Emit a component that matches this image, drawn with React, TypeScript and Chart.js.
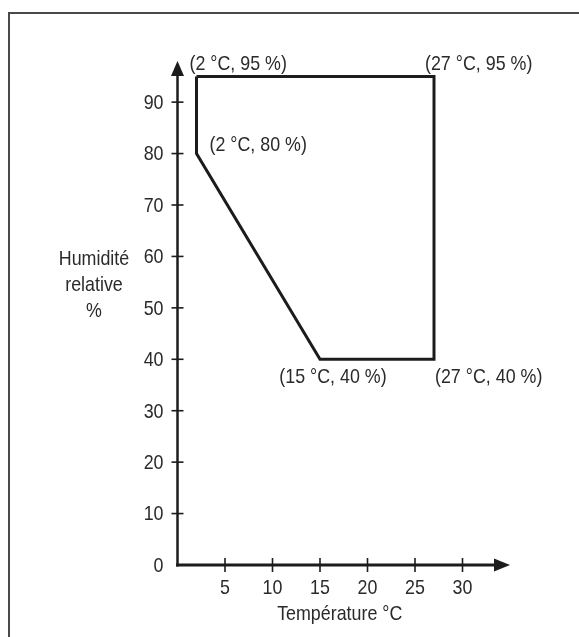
import React, { useEffect, useRef } from "react";
import { Chart, registerables } from "chart.js";

Chart.register(...registerables);

// ---- data ----
const polyTemps = [2, 27, 27, 15, 2, 2];
const polyHumid = [95, 95, 40, 40, 80, 95];

const vertexLabels = ["(2 °C, 95 %)", "(27 °C, 95 %)", "(27 °C, 40 %)", "(15 °C, 40 %)", "(2 °C, 80 %)"];
const labelTemps = [2, 27, 27, 15, 2];
const labelHumid = [95, 95, 40, 40, 80];

const xTickValues = [5, 10, 15, 20, 25, 30];
const yTickValues = [0, 10, 20, 30, 40, 50, 60, 70, 80, 90];

const xTitle = "Température °C";
const yTitleLines = ["Humidité", "relative", "%"];

const FONT_FAMILY = '"Liberation Sans", Arial, sans-serif';
const FONT_SIZE = 21;
const H_SCALE = 0.85; // horizontally condensed text
const TEXT_COLOR = "#2a2a2a";
const LINE_COLOR = "#1c1c1c";

// label placement relative to vertex pixel (style only)
const labelPlacement: { align: CanvasTextAlign; dx: number; dy: number }[] = [
  { align: "left", dx: -7, dy: -12 },
  { align: "left", dx: -9, dy: -12 },
  { align: "left", dx: 1, dy: 18 },
  { align: "center", dx: 13, dy: 18 },
  { align: "left", dx: 13, dy: -8 },
];

function drawText(ctx: CanvasRenderingContext2D, text: string, x: number, y: number, align: CanvasTextAlign) {
  ctx.save();
  ctx.translate(x, y);
  ctx.scale(H_SCALE, 1);
  ctx.textAlign = align;
  ctx.textBaseline = "middle";
  ctx.fillText(text, 0, 0);
  ctx.restore();
}

const decorPlugin = {
  id: "decor",
  afterDraw(chart: any) {
    const ctx: CanvasRenderingContext2D = chart.ctx;
    const xs = chart.scales.x;
    const ys = chart.scales.y;
    const area = chart.chartArea;
    const x0 = xs.getPixelForValue(0);
    const y0 = ys.getPixelForValue(0);
    ctx.save();

    // outer frame
    ctx.strokeStyle = "#4a4a4a";
    ctx.lineWidth = 2;
    ctx.strokeRect(9, 13, 700, 700);

    // axes
    ctx.strokeStyle = LINE_COLOR;
    ctx.fillStyle = LINE_COLOR;
    ctx.lineWidth = 3;
    ctx.lineCap = "butt";
    ctx.beginPath();
    ctx.moveTo(x0 - 1.5, y0);
    ctx.lineTo(area.right - 12, y0);
    ctx.stroke();
    ctx.lineWidth = 2.5;
    ctx.beginPath();
    ctx.moveTo(x0, y0 + 1.5);
    ctx.lineTo(x0, area.top + 12);
    ctx.stroke();

    // arrow heads
    ctx.beginPath();
    ctx.moveTo(area.right, y0);
    ctx.lineTo(area.right - 16, y0 - 6.5);
    ctx.lineTo(area.right - 16, y0 + 6.5);
    ctx.closePath();
    ctx.fill();
    ctx.beginPath();
    ctx.moveTo(x0, area.top);
    ctx.lineTo(x0 - 6.5, area.top + 15);
    ctx.lineTo(x0 + 6.5, area.top + 15);
    ctx.closePath();
    ctx.fill();

    // tick marks
    ctx.lineWidth = 1.6;
    xTickValues.forEach((v) => {
      const px = xs.getPixelForValue(v);
      ctx.beginPath();
      ctx.moveTo(px, y0 - 7);
      ctx.lineTo(px, y0 + 7);
      ctx.stroke();
    });
    yTickValues.forEach((v) => {
      if (v === 0) return;
      const py = ys.getPixelForValue(v);
      ctx.beginPath();
      ctx.moveTo(x0 - 6, py);
      ctx.lineTo(x0 + 6, py);
      ctx.stroke();
    });

    ctx.fillStyle = TEXT_COLOR;
    ctx.font = `${FONT_SIZE}px ${FONT_FAMILY}`;

    // tick labels (from the scales' ticks)
    xs.ticks.forEach((t: any) => {
      drawText(ctx, String(t.value), xs.getPixelForValue(t.value), y0 + 23, "center");
    });
    ys.ticks.forEach((t: any) => {
      drawText(ctx, String(t.value), x0 - 14, ys.getPixelForValue(t.value) + 1, "right");
    });

    // vertex labels
    vertexLabels.forEach((t, i) => {
      const p = labelPlacement[i];
      const px = xs.getPixelForValue(labelTemps[i]) + p.dx;
      const py = ys.getPixelForValue(labelHumid[i]) + p.dy;
      drawText(ctx, t, px, py, p.align);
    });

    // y title (horizontal, 3 lines)
    yTitleLines.forEach((t, i) => {
      drawText(ctx, t, 94, 259 + i * 26, "center");
    });

    // x title
    drawText(ctx, xTitle, (area.left + area.right) / 2 - 4, 614, "center");

    ctx.restore();
  },
};

export default function App() {
  const ref = useRef<HTMLCanvasElement | null>(null);
  useEffect(() => {
    if (!ref.current) return;
    const chart = new Chart(ref.current, {
      type: "scatter",
      data: {
        datasets: [
          {
            data: polyTemps.map((t, i) => ({ x: t, y: polyHumid[i] })),
            showLine: true,
            borderColor: LINE_COLOR,
            borderWidth: 3,
            borderJoinStyle: "miter",
            pointRadius: 0,
            tension: 0,
            fill: false,
          } as any,
        ],
      },
      options: {
        animation: false,
        responsive: false,
        devicePixelRatio: 1,
        layout: { padding: { top: 61, right: 69, bottom: 0, left: 0 } },
        plugins: { legend: { display: false }, tooltip: { enabled: false }, title: { display: false } },
        scales: {
          x: {
            type: "linear",
            min: 0,
            max: 35,
            grid: { display: false, drawTicks: false },
            border: { display: false },
            afterBuildTicks: (s: any) => {
              s.ticks = xTickValues.map((v) => ({ value: v }));
            },
            afterFit: (s: any) => {
              s.height = 72;
            },
            ticks: { display: false },
          },
          y: {
            type: "linear",
            min: 0,
            max: 98,
            grid: { display: false, drawTicks: false },
            border: { display: false },
            afterBuildTicks: (s: any) => {
              s.ticks = yTickValues.map((v) => ({ value: v }));
            },
            afterFit: (s: any) => {
              s.width = 177.5;
            },
            ticks: { display: false },
          },
        },
      },
      plugins: [decorPlugin],
    });
    return () => chart.destroy();
  }, []);
  return (
    <div style={{ position: "absolute", left: 0, top: 0, width: 579, height: 637, background: "#fff" }}>
      <canvas ref={ref} width={579} height={637} style={{ display: "block" }} />
    </div>
  );
}
